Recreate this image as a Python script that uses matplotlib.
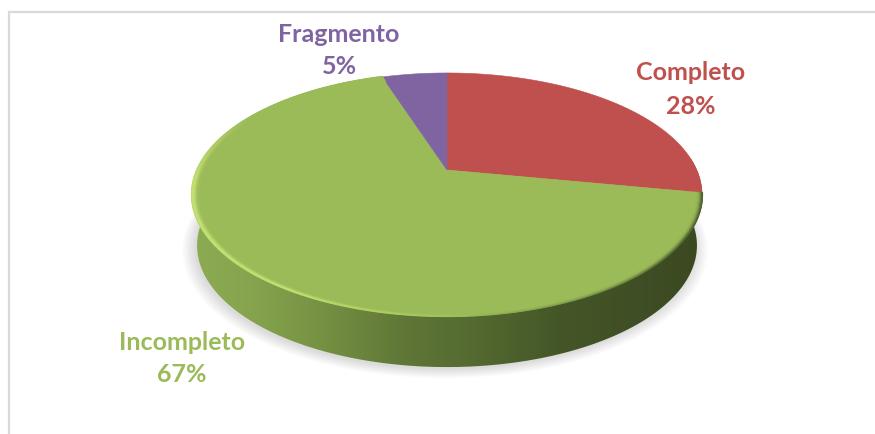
import numpy as np
import matplotlib
matplotlib.use("Agg")
import matplotlib.pyplot as plt
from matplotlib.patches import Polygon
from matplotlib.collections import LineCollection
from matplotlib.colors import LinearSegmentedColormap, to_rgb

categories = ["Completo", "Incompleto", "Fragmento"]
values = [28, 67, 5]
colors = ["#c0504d", "#9bbb59", "#8064a2"]
label_xy = [(691, 73, 106), (182, 343, 375), (339, 35, 66)]

W, H = 875, 434
fig = plt.figure(figsize=(W / 100, H / 100), dpi=100)
ax = fig.add_axes([0, 0, 1, 1])
ax.set_xlim(0, W)
ax.set_ylim(H, 0)
ax.axis("off")

# perspective projection of the pie disc
CX, CY, A, B, P = 447.0, 170.0, 249.8, 116.6, 0.2017
MID = 194.5


def top(theta):
    u, v = np.sin(theta), np.cos(theta)
    w = 1 + P * v
    return CX + A * u / w, CY - B * v / w


def bottom(theta, grow=0.0):
    x, y = top(theta)
    return CX + (x - CX) * (0.98 + grow), MID + (y - MID) * (1.0 + grow) + 51


# frame
ax.plot([8.5, 8.5, W], [H, 11.5, 11.5], color="#d9d9d9", lw=1.6, solid_joinstyle="miter", zorder=1)

# soft shadow, mostly under the front-left of the disc
full = np.linspace(0, 2 * np.pi, 361)
for g in np.linspace(0.05, 0.0, 12):
    x, y = bottom(full, g)
    ax.add_patch(Polygon(np.c_[x - 2, y + 2 + g * 60], closed=True, fc="#666666", ec="none", alpha=0.018, zorder=2))

# side wall with horizontal gradient
fr = np.radians(np.linspace(84, 278, 300))
tx, ty = top(fr)
bx, by = bottom(fr)
side = Polygon(np.r_[np.c_[tx, ty], np.c_[bx, by][::-1]], closed=True, fc="none", ec="none", zorder=3)
ax.add_patch(side)
cmap = LinearSegmentedColormap.from_list(
    "side",
    [(0.0, "#8cab52"), (0.12, "#86a44e"), (0.26, "#759042"), (0.42, "#5f7637"),
     (0.55, "#546a30"), (0.72, "#445627"), (0.88, "#3f4e24"), (1.0, "#3b4820")],
)
img = ax.imshow(np.linspace(0, 1, 512)[None, :], cmap=cmap, extent=(190, 705, H, 0),
                aspect="auto", zorder=3, interpolation="bilinear")
img.set_clip_path(side)
ax.set_xlim(0, W)
ax.set_ylim(H, 0)

# top-face wedges, clockwise from twelve o'clock
edges = np.radians(np.r_[0, np.cumsum(values)] / sum(values) * 360)
for i, col in enumerate(colors):
    th = np.linspace(edges[i], edges[i + 1], 200)
    x, y = top(th)
    ax.add_patch(Polygon(np.r_[[[CX, CY]], np.c_[x, y]], closed=True, fc=col, ec=col, lw=0.4, zorder=4))

# bevel around the green slice rim
th = np.linspace(edges[1], edges[2], 500)
green = np.array(to_rgb("#9bbb59"))
hi = np.array(to_rgb("#c4e274"))
dark = np.array(to_rgb("#4f6230"))
deg = np.degrees(th)
light = np.clip((deg - 172) / 40, 0, 1) * np.clip((300 - deg) / 35, 0, 1)
shade = np.clip((178 - deg) / 55, 0, 1)
scales = np.linspace(1.0, 0.955, 12)
for k, s in enumerate(scales):
    x, y = top(th)
    x = CX + (x - CX) * s
    y = MID + (y - MID) * s
    pts = np.c_[x, y]
    segs = np.stack([pts[:-1], pts[1:]], axis=1)
    prof = np.exp(-((k - 1.5) / 3.2) ** 2)
    edge = np.exp(-(k / 3.0) ** 2)
    c = green + (hi - green) * (light * prof)[:, None] + (dark - green) * (shade * edge)[:, None]
    ax.add_collection(LineCollection(segs, colors=np.clip(c[:-1], 0, 1), linewidths=1.5, zorder=5, capstyle="round"))

# labels
for name, val, col, (lx, y1, y2) in zip(categories, values, colors, label_xy):
    ax.text(lx, y1, name, color=col, family="Lato", weight="bold", fontsize=18, ha="center", va="center", zorder=6)
    ax.text(lx, y2, f"{val}%", color=col, family="Lato", weight="bold", fontsize=18, ha="center", va="center", zorder=6)

fig.savefig("out.png", dpi=100)
